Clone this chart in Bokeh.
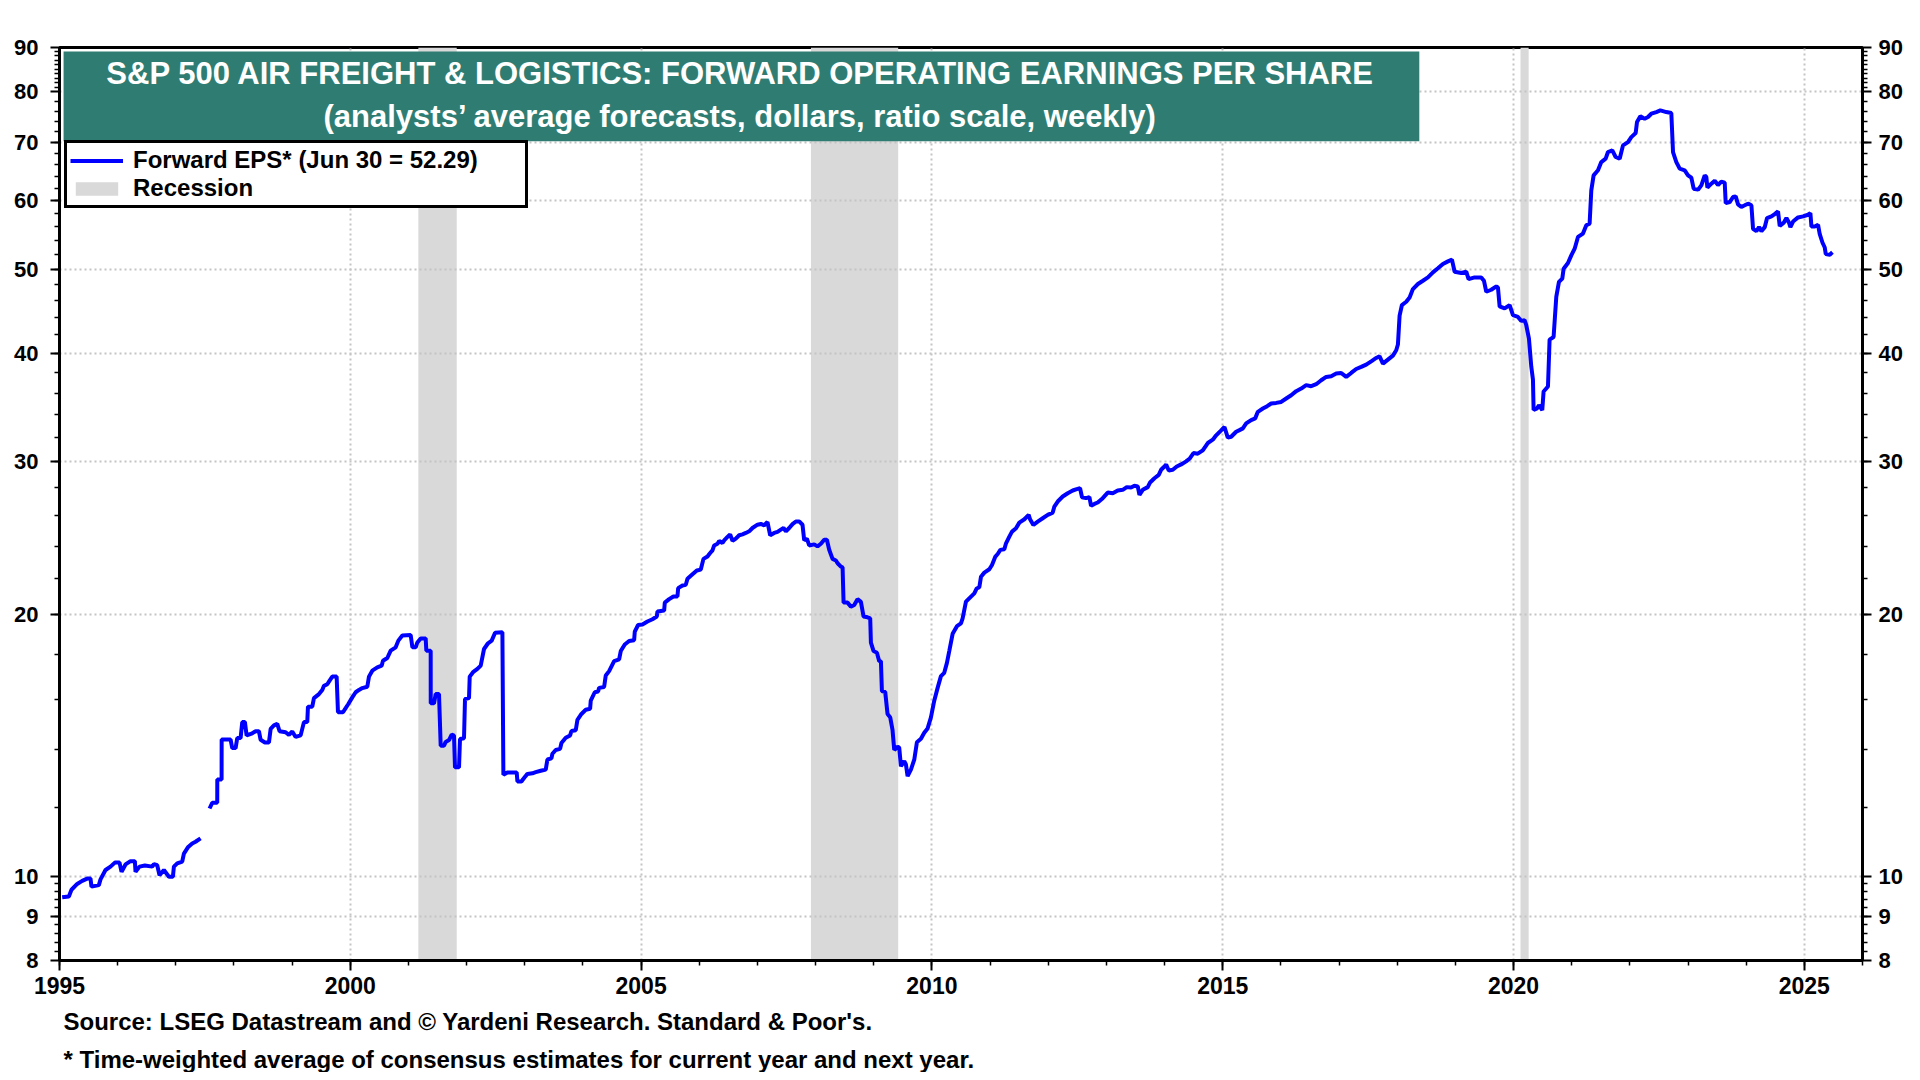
import math
from bokeh.plotting import figure
from bokeh.models import (Range1d, FixedTicker, LogAxis, CustomJSTickFormatter,
                          Legend, LegendItem, Label, BoxAnnotation, Title)
from bokeh.embed import file_html
from bokeh.resources import INLINE

NAN = float("nan")

# ---- data (decimal year, forward EPS in dollars) ----
dates = [
    1995.046, 1995.161, 1995.206, 1995.304, 1995.390, 1995.476, 1995.533, 1995.550, 1995.677, 1995.705,
    1995.791, 1995.877, 1995.952, 1996.032, 1996.067, 1996.135, 1996.221, 1996.296, 1996.307, 1996.376,
    1996.468, 1996.594, 1996.623, 1996.680, 1996.720, 1996.795, 1996.881, 1996.950, 1996.967, 1997.024,
    1997.110, 1997.139, 1997.213, 1997.282, 1997.339, 1997.425, 1997.500,
    1997.580, 1997.626, 1997.712, 1997.713, 1997.787, 1997.788, 1997.942, 1997.970, 1998.028, 1998.056,
    1998.114, 1998.142, 1998.188, 1998.217, 1998.314, 1998.372, 1998.429, 1998.458, 1998.532, 1998.601,
    1998.630, 1998.687, 1998.744, 1998.784, 1998.888, 1998.945, 1999.002, 1999.060, 1999.146, 1999.203,
    1999.260, 1999.272, 1999.346, 1999.375, 1999.461, 1999.518, 1999.547, 1999.604, 1999.644, 1999.690,
    1999.765, 1999.788, 1999.874, 1999.920, 1999.966, 2000.034, 2000.092, 2000.149, 2000.206, 2000.292,
    2000.321, 2000.378, 2000.464, 2000.539, 2000.562, 2000.636, 2000.694, 2000.780, 2000.826, 2000.894,
    2001.038, 2001.067, 2001.124, 2001.153, 2001.210, 2001.296, 2001.307, 2001.382, 2001.383, 2001.439,
    2001.468, 2001.525, 2001.554, 2001.611, 2001.640, 2001.697, 2001.743, 2001.783, 2001.800, 2001.869,
    2001.886, 2001.955, 2001.972, 2002.041, 2002.053, 2002.110, 2002.185, 2002.242, 2002.299, 2002.368,
    2002.431, 2002.489, 2002.615, 2002.632, 2002.701, 2002.861, 2002.873, 2002.942, 2002.987, 2003.045,
    2003.131, 2003.188, 2003.274, 2003.360, 2003.389, 2003.458, 2003.475, 2003.532, 2003.607, 2003.630,
    2003.704, 2003.779, 2003.802, 2003.876, 2003.905, 2003.974, 2004.048, 2004.123, 2004.134, 2004.203,
    2004.260, 2004.278, 2004.364, 2004.392, 2004.450, 2004.536, 2004.622, 2004.650, 2004.719, 2004.794,
    2004.880, 2004.891, 2004.948, 2005.023, 2005.109, 2005.195, 2005.270, 2005.281, 2005.396, 2005.407,
    2005.482, 2005.556, 2005.625, 2005.637, 2005.711, 2005.768, 2005.797, 2005.883, 2005.958, 2006.026,
    2006.072, 2006.141, 2006.187, 2006.227, 2006.256, 2006.313, 2006.342, 2006.399, 2006.428, 2006.485,
    2006.531, 2006.571, 2006.628, 2006.686, 2006.743, 2006.800, 2006.858, 2006.915, 2007.001, 2007.058,
    2007.116, 2007.173, 2007.219, 2007.288, 2007.345, 2007.403, 2007.449, 2007.489, 2007.546, 2007.603,
    2007.661, 2007.718, 2007.775, 2007.804, 2007.850, 2007.890, 2007.976, 2008.033, 2008.091, 2008.148,
    2008.194, 2008.234, 2008.291, 2008.349, 2008.378, 2008.435, 2008.464, 2008.481, 2008.549, 2008.607,
    2008.664, 2008.721, 2008.779, 2008.825, 2008.893, 2008.939, 2008.951, 2008.997, 2009.054, 2009.094,
    2009.123, 2009.140, 2009.197, 2009.237, 2009.283, 2009.323, 2009.352, 2009.410, 2009.438, 2009.467,
    2009.524, 2009.553, 2009.582, 2009.639, 2009.697, 2009.742, 2009.811, 2009.868, 2009.926, 2009.983,
    2010.040, 2010.098, 2010.155, 2010.212, 2010.258, 2010.298, 2010.356, 2010.430, 2010.499, 2010.528,
    2010.585, 2010.672, 2010.729, 2010.770, 2010.815, 2010.844, 2010.901, 2010.987, 2011.033, 2011.091,
    2011.131, 2011.177, 2011.245, 2011.274, 2011.331, 2011.377, 2011.446, 2011.503, 2011.590, 2011.664,
    2011.687, 2011.744, 2011.819, 2011.905, 2011.991, 2012.077, 2012.105, 2012.163, 2012.249, 2012.335,
    2012.421, 2012.490, 2012.547, 2012.581, 2012.650, 2012.708, 2012.736, 2012.794, 2012.851, 2012.937,
    2013.023, 2013.109, 2013.195, 2013.281, 2013.350, 2013.424, 2013.482, 2013.539, 2013.568, 2013.625,
    2013.711, 2013.751, 2013.826, 2013.900, 2013.940, 2013.998, 2014.027, 2014.072, 2014.141, 2014.210,
    2014.285, 2014.371, 2014.428, 2014.497, 2014.571, 2014.657, 2014.743, 2014.829, 2014.887, 2014.973,
    2015.030, 2015.087, 2015.145, 2015.231, 2015.288, 2015.346, 2015.403, 2015.489, 2015.558, 2015.604,
    2015.690, 2015.764, 2015.833, 2015.919, 2016.005, 2016.091, 2016.177, 2016.263, 2016.349, 2016.435,
    2016.521, 2016.607, 2016.693, 2016.779, 2016.865, 2016.951, 2017.037, 2017.123, 2017.209, 2017.295,
    2017.381, 2017.467, 2017.553, 2017.639, 2017.697, 2017.754, 2017.840, 2017.926, 2017.983, 2018.012,
    2018.041, 2018.081, 2018.155, 2018.213, 2018.270, 2018.356, 2018.442, 2018.528, 2018.614, 2018.700,
    2018.786, 2018.872, 2018.941, 2018.987, 2019.101, 2019.187, 2019.227, 2019.331, 2019.445, 2019.491,
    2019.531, 2019.617, 2019.704, 2019.732, 2019.761, 2019.847, 2019.933, 2019.990, 2020.076, 2020.133,
    2020.190, 2020.219, 2020.265, 2020.305, 2020.334, 2020.345, 2020.403, 2020.437, 2020.494, 2020.517,
    2020.592, 2020.620, 2020.689, 2020.735, 2020.781, 2020.838, 2020.861, 2020.936, 2020.993, 2021.051,
    2021.108, 2021.194, 2021.251, 2021.308, 2021.337, 2021.377, 2021.452, 2021.509, 2021.584, 2021.624,
    2021.698, 2021.756, 2021.825, 2021.882, 2021.968, 2022.025, 2022.100, 2022.123, 2022.180, 2022.255,
    2022.312, 2022.369, 2022.455, 2022.524, 2022.627, 2022.713, 2022.742, 2022.799, 2022.857, 2022.943,
    2023.000, 2023.057, 2023.097, 2023.172, 2023.229, 2023.287, 2023.315, 2023.333, 2023.401, 2023.459,
    2023.516, 2023.573, 2023.631, 2023.648, 2023.717, 2023.774, 2023.820, 2023.860, 2023.917, 2023.975,
    2024.032, 2024.090, 2024.118, 2024.176, 2024.221, 2024.262, 2024.319, 2024.359, 2024.434, 2024.491,
    2024.548, 2024.577, 2024.646, 2024.692, 2024.737, 2024.760, 2024.806, 2024.892, 2024.978, 2025.064,
    2025.104, 2025.122, 2025.179, 2025.236, 2025.265, 2025.311, 2025.351, 2025.368, 2025.437, 2025.483,
]

eps = [
    9.46, 9.48, 9.65, 9.80, 9.88, 9.94, 9.94, 9.73, 9.77, 9.92,
    10.17, 10.26, 10.37, 10.37, 10.12, 10.32, 10.41, 10.41, 10.12, 10.26,
    10.29, 10.26, 10.33, 10.30, 10.03, 10.17, 9.99, 9.99, 10.26, 10.35,
    10.40, 10.62, 10.81, 10.91, 10.96, 11.06, NAN,
    11.97, 12.15, 12.15, 12.93, 12.93, 14.37, 14.37, 14.05, 14.05, 14.43,
    14.43, 15.05, 15.05, 14.53, 14.61, 14.69, 14.69, 14.36, 14.26, 14.26,
    14.78, 14.92, 14.98, 14.69, 14.65, 14.55, 14.68, 14.47, 14.53, 15.05,
    15.05, 15.68, 15.68, 16.04, 16.21, 16.39, 16.57, 16.64, 16.80, 16.98,
    16.98, 15.45, 15.45, 15.62, 15.79, 16.07, 16.29, 16.39, 16.47, 16.53,
    16.98, 17.25, 17.40, 17.48, 17.71, 17.84, 18.19, 18.35, 18.68, 18.93,
    18.96, 18.35, 18.35, 18.59, 18.79, 18.79, 18.19, 18.19, 15.82, 15.82,
    16.21, 16.21, 14.14, 14.14, 14.28, 14.35, 14.56, 14.52, 13.35, 13.35,
    14.39, 14.42, 16.00, 16.04, 16.98, 17.18, 17.33, 17.48, 18.27, 18.55,
    18.68, 19.07, 19.10, 13.09, 13.17, 13.17, 12.86, 12.86, 12.98, 13.12,
    13.14, 13.18, 13.23, 13.27, 13.63, 13.67, 13.84, 13.98, 14.02, 14.24,
    14.44, 14.53, 14.70, 14.73, 15.14, 15.38, 15.55, 15.59, 15.93, 16.29,
    16.32, 16.48, 16.52, 17.03, 17.23, 17.69, 17.77, 18.17, 18.49, 18.66,
    18.70, 19.13, 19.47, 19.50, 19.65, 19.77, 19.91, 20.18, 20.23, 20.66,
    20.85, 21.00, 21.00, 21.47, 21.62, 21.66, 22.01, 22.27, 22.50, 22.55,
    23.20, 23.35, 23.56, 23.73, 24.04, 24.15, 24.33, 24.20, 24.37, 24.59,
    24.76, 24.33, 24.48, 24.70, 24.76, 24.85, 24.96, 25.18, 25.40, 25.45,
    25.36, 25.58, 24.70, 24.85, 24.92, 25.07, 25.18, 24.96, 25.18, 25.44,
    25.62, 25.62, 25.40, 24.37, 24.48, 24.04, 24.11, 23.98, 24.15, 24.41,
    24.41, 23.77, 23.20, 23.10, 22.93, 22.73, 22.69, 20.66, 20.66, 20.44,
    20.53, 20.85, 20.70, 19.91, 19.87, 19.82, 18.58, 18.17, 18.09, 17.69,
    17.69, 16.34, 16.30, 15.38, 15.24, 14.73, 13.98, 14.10, 14.06, 13.39,
    13.57, 13.45, 13.04, 13.27, 13.63, 14.27, 14.40, 14.63, 14.80, 15.24,
    15.93, 16.48, 17.00, 17.15, 17.61, 18.17, 19.02, 19.41, 19.55, 19.82,
    20.71, 20.99, 21.17, 21.45, 21.52, 22.13, 22.37, 22.57, 22.83, 23.34,
    23.50, 23.76, 23.80, 24.18, 24.61, 24.94, 25.16, 25.54, 25.77, 26.07,
    25.77, 25.38, 25.61, 25.84, 26.07, 26.23, 26.65, 27.01, 27.37, 27.61,
    27.81, 27.91, 27.98, 27.32, 27.25, 27.32, 26.70, 26.84, 26.94, 27.25,
    27.66, 27.61, 27.81, 27.86, 28.06, 28.03, 28.16, 28.11, 27.49, 27.86,
    28.06, 28.41, 28.73, 28.99, 29.38, 29.64, 29.80, 29.33, 29.38, 29.64,
    29.80, 30.04, 30.25, 30.71, 30.66, 30.93, 31.54, 31.82, 32.19, 32.62,
    32.91, 31.99, 32.07, 32.50, 32.64, 32.79, 33.22, 33.52, 33.67, 34.26,
    34.56, 34.78, 35.02, 35.08, 35.17, 35.49, 35.80, 36.19, 36.44, 36.77,
    36.67, 36.86, 37.25, 37.58, 37.65, 37.92, 37.98, 37.58, 37.98, 38.38,
    38.59, 38.83, 39.17, 39.52, 39.70, 38.93, 39.35, 39.77, 40.33, 40.95,
    44.21, 45.47, 45.87, 46.40, 47.44, 48.08, 48.50, 48.93, 49.58, 50.12,
    50.70, 51.05, 51.28, 49.67, 49.50, 49.67, 48.71, 48.93, 48.93, 48.50,
    47.10, 47.35, 47.77, 47.65, 45.30, 45.06, 45.47, 44.26, 44.06, 43.60,
    43.68, 43.10, 41.60, 38.63, 37.30, 34.42, 34.57, 34.87, 34.42, 36.16,
    36.64, 41.49, 41.78, 46.46, 48.34, 48.77, 50.07, 50.83, 51.87, 52.80,
    54.47, 54.95, 56.17, 56.42, 61.62, 64.13, 64.99, 66.43, 67.02, 68.22,
    68.52, 67.32, 67.02, 69.43, 70.04, 70.97, 71.73, 73.86, 74.98, 74.52,
    74.85, 75.51, 75.84, 76.18, 75.84, 75.64, 68.22, 66.43, 65.27, 64.99,
    64.13, 63.73, 61.90, 61.74, 62.45, 64.13, 63.85, 62.07, 62.73, 63.23,
    62.51, 63.06, 62.90, 59.59, 59.75, 60.55, 60.66, 59.38, 58.97, 59.23,
    59.49, 59.23, 55.65, 55.31, 55.90, 55.31, 55.90, 57.26, 57.52, 57.87,
    58.28, 56.07, 56.57, 57.26, 56.57, 55.90, 56.74, 57.36, 57.52, 57.77,
    58.03, 56.00, 56.00, 56.25, 54.86, 53.67, 52.96, 52.05, 51.96, 52.29,
]

rec_start = [2001.17, 2007.92, 2020.12]
rec_end = [2001.83, 2009.42, 2020.26]

x_major = [1995, 2000, 2005, 2010, 2015, 2020, 2025]
x_minor = list(range(1995, 2027))
y_major = [8, 9, 10, 20, 30, 40, 50, 60, 70, 80, 90]
y_minor = ([round(8 + 0.2 * i, 1) for i in range(1, 10)] +
           [round(9 + 0.2 * i, 1) for i in range(1, 5)] +
           list(range(12, 80, 2)) + list(range(81, 90)))

title1 = "S&P 500 AIR FREIGHT & LOGISTICS: FORWARD OPERATING EARNINGS PER SHARE"
title2 = "(analysts\u2019 average forecasts, dollars, ratio scale, weekly)"
legend1 = "Forward EPS* (Jun 30 = 52.29)"
legend2 = "Recession"
note1 = "Source: LSEG Datastream and \u00a9 Yardeni Research. Standard & Poor's."
note2 = "* Time-weighted average of consensus estimates for current year and next year."

FONT = "Liberation Sans"
GREEN = "#2F7D72"

# ---- figure ----
p = figure(width=1912, height=1072, y_axis_type="log",
           x_range=Range1d(1995, 2026.0), y_range=Range1d(8, 90),
           output_backend="svg", toolbar_location=None, tools="",
           min_border_left=59, min_border_right=50,
           min_border_top=47, min_border_bottom=111)
p.background_fill_color = "white"
p.border_fill_color = "white"
p.outline_line_color = "black"
p.outline_line_width = 3

# recession bands
rec_r = p.quad(left=rec_start, right=rec_end, bottom=8, top=90,
               fill_color="#d9d9d9", line_color=None, level="image")

# series
line_r = p.line(dates, eps, line_color="#0000FF", line_width=4)

# axes
def style_axis(ax, size):
    ax.axis_line_color = "black"
    ax.axis_line_width = 3
    ax.major_tick_line_color = "black"
    ax.major_tick_line_width = 2
    ax.minor_tick_line_color = "black"
    ax.minor_tick_line_width = 1.5
    ax.major_tick_in = 0
    ax.minor_tick_in = 0
    ax.major_label_text_font = FONT
    ax.major_label_text_font_style = "bold"
    ax.major_label_text_font_size = size
    ax.major_label_text_color = "black"

p.yaxis.ticker = FixedTicker(ticks=y_major, minor_ticks=y_minor)
p.yaxis.formatter = CustomJSTickFormatter(code="return tick.toFixed(0);")
style_axis(p.yaxis[0], "22px")
p.yaxis.major_tick_out = 9
p.yaxis.minor_tick_out = 5
p.yaxis.major_label_standoff = 12

right = LogAxis(ticker=FixedTicker(ticks=y_major, minor_ticks=y_minor),
                formatter=CustomJSTickFormatter(code="return tick.toFixed(0);"))
style_axis(right, "22px")
right.major_tick_out = 9
right.minor_tick_out = 5
right.major_label_standoff = 7
p.add_layout(right, "right")

p.xaxis.ticker = FixedTicker(ticks=x_major, minor_ticks=x_minor)
style_axis(p.xaxis[0], "23px")
p.xaxis.major_tick_out = 10
p.xaxis.minor_tick_out = 5
p.xaxis.major_label_standoff = 6

# grids
for g in (p.xgrid, p.ygrid):
    g.grid_line_color = "#c4c4c4"
    g.grid_line_width = 2
    g.grid_line_dash = "2 3"
p.xgrid.ticker = FixedTicker(ticks=x_major)
p.ygrid.ticker = FixedTicker(ticks=y_major)

# title banner
p.add_layout(BoxAnnotation(left=1995.07, right=2018.38, top=89.05, bottom=70.2,
                           fill_color=GREEN, fill_alpha=1.0, line_color=None))
for txt, yy in ((title1, 887), (title2, 844)):
    p.add_layout(Label(x=681, y=yy, x_units="screen", y_units="screen", text=txt,
                       text_align="center", text_baseline="middle",
                       text_color="white", text_font=FONT, text_font_style="bold",
                       text_font_size="31px"))

# legend
legend = Legend(items=[LegendItem(label=legend1, renderers=[line_r]),
                       LegendItem(label=legend2, renderers=[rec_r])],
                location=(5, 752), orientation="vertical")
legend.border_line_color = "black"
legend.border_line_width = 3
legend.border_line_alpha = 1.0
legend.background_fill_color = "white"
legend.background_fill_alpha = 1.0
legend.padding = 3
legend.spacing = 0
legend.glyph_width = 53
legend.glyph_height = 17
legend.label_standoff = 10
legend.label_width = 389
legend.label_text_font = FONT
legend.label_text_font_style = "bold"
legend.label_text_font_size = "24px"
legend.label_text_color = "black"
legend.margin = 0
p.add_layout(legend)

# footnotes (below the x axis)
for txt, so in ((note1, 18), (note2, 0)):
    p.add_layout(Title(text=txt, align="left", offset=4, standoff=so,
                       text_font=FONT, text_font_style="bold",
                       text_font_size="24px", text_color="black"), "below")

open("out.html", "w").write(file_html(p, INLINE))
